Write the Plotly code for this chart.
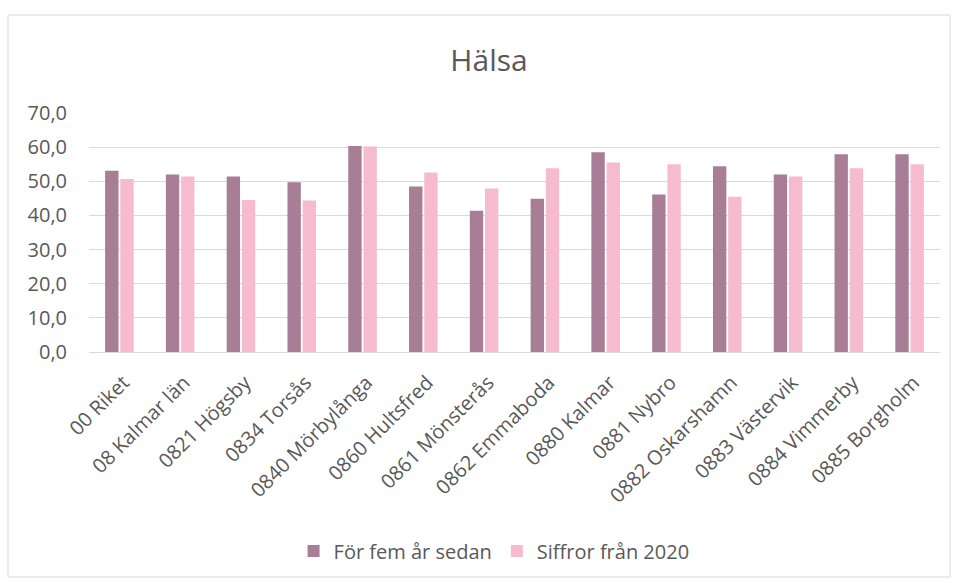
import plotly.graph_objects as go

categories = [
    "00 Riket", "08 Kalmar län", "0821 Högsby", "0834 Torsås", "0840 Mörbylånga",
    "0860 Hultsfred", "0861 Mönsterås", "0862 Emmaboda", "0880 Kalmar", "0881 Nybro",
    "0882 Oskarshamn", "0883 Västervik", "0884 Vimmerby", "0885 Borgholm",
]
fem_ar_sedan = [53.1, 52.0, 51.4, 49.7, 60.3, 48.5, 41.4, 44.9, 58.5, 46.1, 54.4, 52.0, 57.9, 57.9]
siffror_2020 = [50.7, 51.4, 44.5, 44.4, 60.2, 52.6, 47.9, 53.8, 55.5, 55.0, 45.5, 51.4, 53.8, 55.0]
y_ticks = [0, 10, 20, 30, 40, 50, 60, 70]

FONT = "Open Sans"
GRAY = "#595959"

fig = go.Figure()
fig.add_trace(go.Bar(name="För fem år sedan", x=categories, y=fem_ar_sedan,
                     marker=dict(color="#A87E96", line=dict(width=0))))
fig.add_trace(go.Bar(name="Siffror från 2020", x=categories, y=siffror_2020,
                     marker=dict(color="#F7BBD0", line=dict(width=0))))

fig.update_layout(
    width=957, height=583,
    margin=dict(l=89, r=17, t=113, b=231),
    paper_bgcolor="white", plot_bgcolor="white",
    separators=",.",
    barmode="group", bargap=0.5, bargroupgap=0.12,
    font=dict(family=FONT, color=GRAY, size=20),
    title=dict(text="Hälsa", x=0.511, xanchor="center", xref="container",
               y=1 - 60 / 583, yanchor="middle", yref="container",
               font=dict(family=FONT, size=30, color=GRAY)),
    showlegend=True,
    legend=dict(orientation="h", x=0.476, xanchor="center", y=-0.833, yanchor="middle",
                font=dict(family=FONT, size=20, color=GRAY), itemwidth=30,
                traceorder="normal"),
    xaxis=dict(tickangle=-45, showgrid=False, showline=True, linecolor="#D9D9D9",
               linewidth=1, ticks="", automargin=False,
               ticklabelstandoff=10, ticklabelshift=4,
               tickfont=dict(family=FONT, size=20, color=GRAY)),
    yaxis=dict(range=[0, 70], tickvals=y_ticks, tickformat=".1f", showgrid=True,
               gridcolor="#D9D9D9", gridwidth=1, zeroline=False, showline=False,
               automargin=False, ticklabelstandoff=21,
               tickfont=dict(family=FONT, size=20, color=GRAY)),
    shapes=[dict(type="rect", xref="paper", yref="paper",
                 x0=(8 - 89) / 851, x1=(950 - 89) / 851,
                 y0=(352 - 577) / 239, y1=(352 - 15) / 239,
                 line=dict(color="#D9D9D9", width=1), fillcolor="rgba(0,0,0,0)",
                 layer="below")],
)

fig.write_html("out.html")
